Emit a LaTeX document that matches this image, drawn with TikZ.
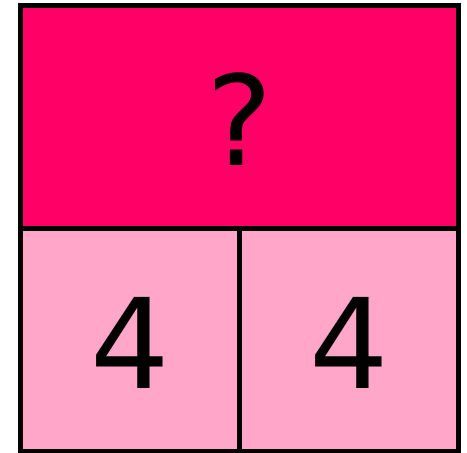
\documentclass[tikz,border=0pt]{standalone}
\usepackage{fontspec}
\setmainfont{DejaVu Sans}
\usetikzlibrary{positioning}
\definecolor{BarTop}{HTML}{FF0066}
\definecolor{BarPart}{HTML}{FFA6C9}
\tikzset{
  barbox/.style={draw=black,line width=4.5pt,inner sep=0pt,outer sep=0pt,
    minimum height=223pt,text height=98pt,text depth=0pt,
    font=\fontsize{125}{127}\selectfont}
}
\begin{document}
\begin{tikzpicture}[x=1pt,y=1pt]
  \useasboundingbox (0,0) rectangle (467,453);
  \node[barbox,fill=BarTop,minimum width=438pt] (whole) at (239.5,336) {?};
  \node[barbox,fill=BarPart,minimum width=219pt,anchor=north west]
    (left) at (whole.south west) {4};
  \node[barbox,fill=BarPart,minimum width=219pt,anchor=north west]
    (right) at (left.north east) {4};
  \draw[line width=4.5pt] (whole.north west) rectangle (right.south east);
\end{tikzpicture}
\end{document}
